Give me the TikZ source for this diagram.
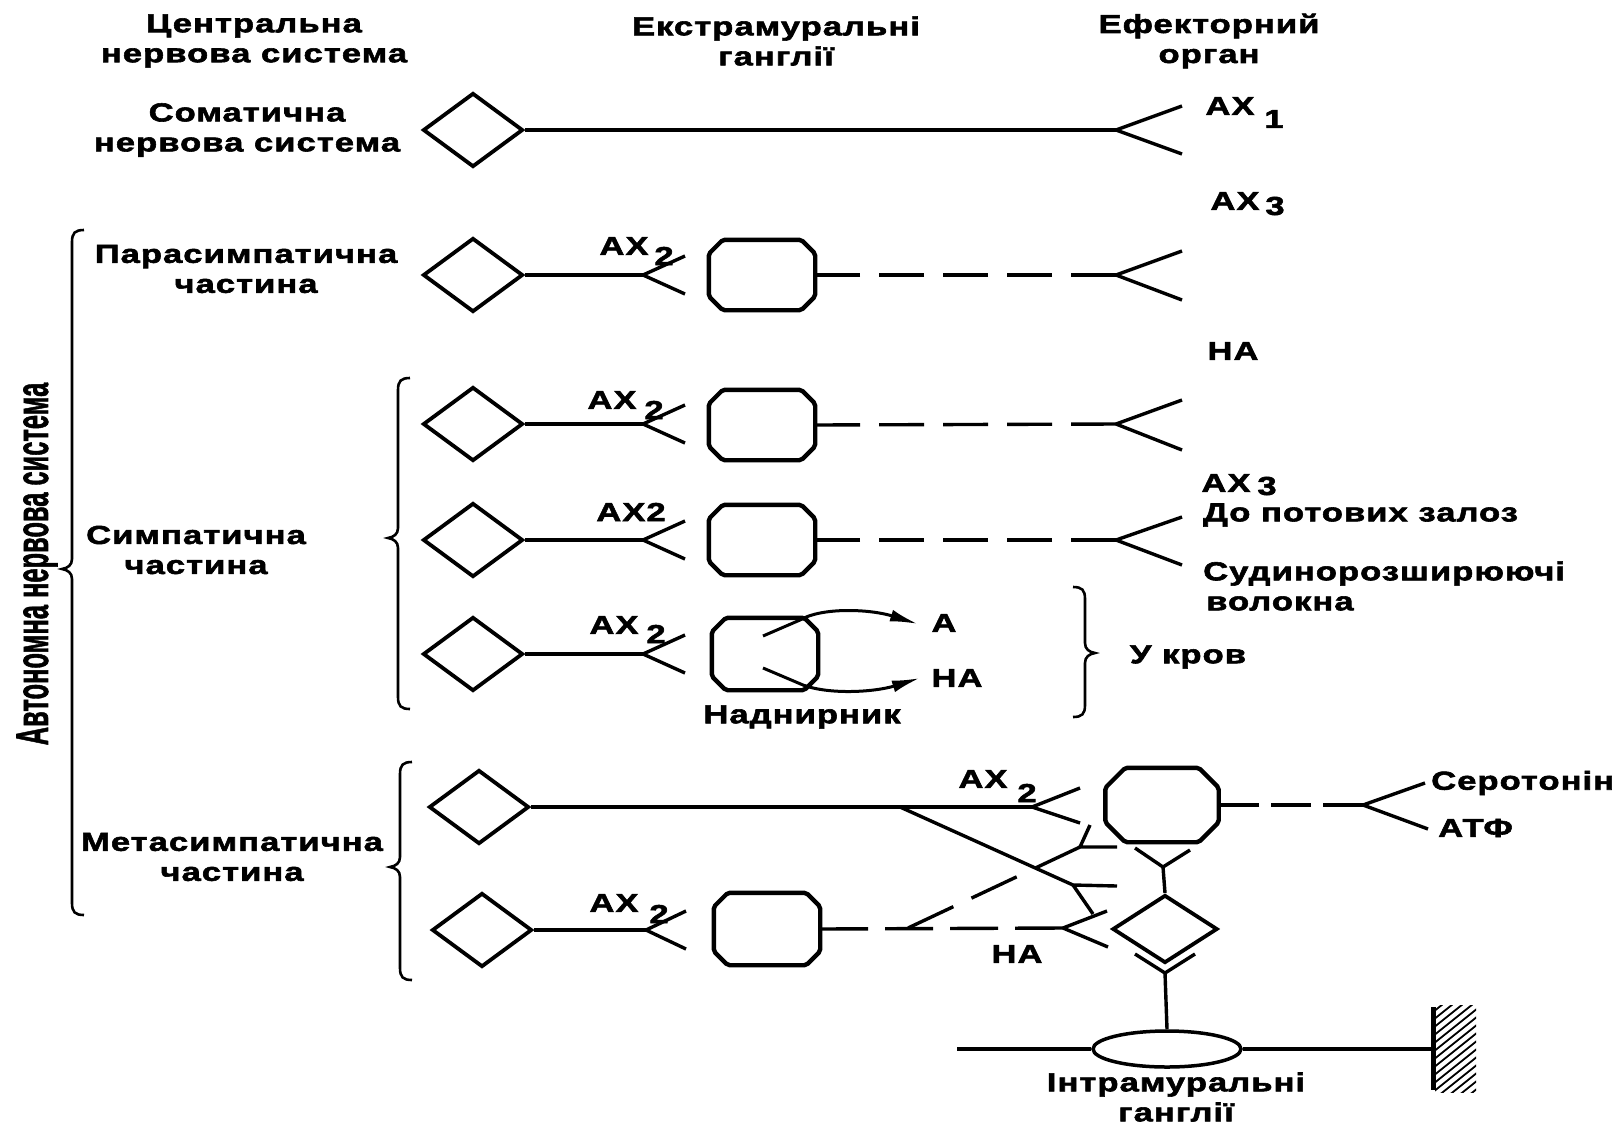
\documentclass[tikz,border=0pt]{standalone}
\usepackage{fontspec}
\setmainfont{Liberation Sans}
\newfontfamily\lblf[FakeStretch=1.33,LetterSpace=4,FakeBold=2.2]{Liberation Sans Bold}
\newfontfamily\rotf[FakeBold=1.6]{Liberation Sans Bold}
\usetikzlibrary{shapes.geometric,arrows.meta}
\newcommand\octbox[6]{%
  \node[gbox,minimum width=#4pt,minimum height=#5pt] (#1) at (#2,#3) {};
  \draw[gline] ([xshift=#6pt]#1.north west) -- ([xshift=-#6pt]#1.north east) -- ([yshift=-#6pt]#1.north east) -- ([yshift=#6pt]#1.south east) -- ([xshift=-#6pt]#1.south east) -- ([xshift=#6pt]#1.south west) -- ([yshift=#6pt]#1.south west) -- ([yshift=-#6pt]#1.north west) -- cycle;}
\newcommand\forkat[5]{\draw[ax] (#1) -- ++(#2,#3) (#1) -- ++(#4,#5);}
\newcommand\bracel[4]{%
  \draw[brc] (#1+12,#2) .. controls (#1+3,#2) and (#1,#2+3) .. (#1,#2+12) -- (#1,#4-10) .. controls (#1,#4-4) and (#1-4,#4-1) .. (#1-10,#4) .. controls (#1-4,#4+1) and (#1,#4+4) .. (#1,#4+10) -- (#1,#3-12) .. controls (#1,#3-3) and (#1+3,#3) .. (#1+12,#3);}
\newcommand\bracer[4]{%
  \draw[brc] (#1-12,#2) .. controls (#1-3,#2) and (#1,#2+3) .. (#1,#2+12) -- (#1,#4-10) .. controls (#1,#4-4) and (#1+4,#4-1) .. (#1+10,#4) .. controls (#1+4,#4+1) and (#1,#4+4) .. (#1,#4+10) -- (#1,#3-12) .. controls (#1,#3-3) and (#1-3,#3) .. (#1-12,#3);}
\begin{document}
\begin{tikzpicture}[x=1pt,y=-1pt,
  txt/.style={font=\lblf\fontsize{26}{30}\selectfont, inner sep=0pt, align=center},
  neu/.style={draw, line width=3.8pt, diamond, minimum width=100pt, minimum height=74pt, inner sep=0pt},
  gbox/.style={rectangle, inner sep=0pt},
  gline/.style={line width=4.4pt, rounded corners=2pt},
  ax/.style={line width=3.4pt},
  dsh/.style={line width=3.4pt, dash pattern=on 45pt off 19pt},
  brc/.style={line width=2.6pt},
  arr/.style={line width=3pt, -{Latex[length=28pt,width=12pt]}}]
\fill[white] (0,0) rectangle (1622,1125);
\useasboundingbox (0,0) rectangle (1622,1125);

% headers
\node[txt] (h1) at (254,41) {Центральна\\нервова система};
\node[txt] (h2) at (776,41) {Екстрамуральні\\ганглії};
\node[txt] (h3) at (1209,41) {Ефекторний\\орган};

% row labels
\node[txt] (l1) at (247,130) {Соматична\\нервова система};
\node[txt] (l2) at (246,269) {Парасимпатична\\частина};
\node[txt] (l3) at (196,550) {Симпатична\\частина};
\node[txt] (l4) at (232,857) {Метасимпатична\\частина};
\node[rotate=90, font=\rotf\fontsize{24}{28}\selectfont, inner sep=0pt] (l0) at (37,564) {\scalebox{1.06}[1.9]{Автономна нервова система}};

% braces
\bracel{72}{230}{915}{569}
\bracel{398}{378}{709}{538}
\bracel{400}{762}{980}{867}
\bracer{1085}{587}{717}{653}

% neurons (diamonds)
\node[neu] (d1) at (473,130) {};
\node[neu] (d2) at (473,275) {};
\node[neu] (d3) at (473,424) {};
\node[neu] (d4) at (473,540) {};
\node[neu] (d5) at (473,654) {};
\node[neu] (d6) at (479,807) {};
\node[neu] (d7) at (482,930) {};

% ganglia (octagons)
\octbox{g2}{762}{275}{106}{70}{14}
\octbox{g3}{762}{425}{106}{70}{14}
\octbox{g4}{762}{540}{106}{70}{14}
\octbox{g5}{765}{654}{106}{72}{14}
\octbox{g7}{767}{929}{106}{72}{14}
\octbox{gm}{1162}{805}{113}{74}{20}

% row 1
\coordinate (f1) at (1116,130);
\draw[ax] (d1.east) -- (f1);
\forkat{f1}{66}{-24}{66}{24}
% row 2
\coordinate (a2) at (643,275);
\draw[ax] (d2.east) -- (a2);
\forkat{a2}{42}{-19}{42}{19}
\coordinate (b2) at (1116,275);
\draw[dsh] (b2) -- (g2.east);
\forkat{b2}{66}{-24}{66}{25}
% row 3
\coordinate (a3) at (643,424);
\draw[ax] (d3.east) -- (a3);
\forkat{a3}{42}{-19}{42}{19}
\coordinate (b3) at (1116,424);
\draw[dsh] (b3) -- (g3.east);
\forkat{b3}{66}{-24}{66}{26}
% row 4
\coordinate (a4) at (643,540);
\draw[ax] (d4.east) -- (a4);
\forkat{a4}{42}{-19}{42}{19}
\coordinate (b4) at (1116,540);
\draw[dsh] (b4) -- (g4.east);
\forkat{b4}{66}{-23}{66}{25}
% row 5
\coordinate (a5) at (643,654);
\draw[ax] (d5.east) -- (a5);
\forkat{a5}{42}{-19}{42}{19}
\coordinate (tA) at (918,624);
\coordinate (tN) at (920,678);
\draw[arr] ([xshift=-2pt,yshift=18pt]g5.center) -- (800,620) .. controls (822,607) and (870,609) .. (tA);
\draw[arr] ([xshift=-2pt,yshift=-14pt]g5.center) -- (803,685) .. controls (830,695) and (875,692) .. (tN);

% metasympathetic
\coordinate (a6) at (1032,807);
\draw[ax] (d6.east) -- (a6);
\forkat{a6}{48}{-19}{48}{16}
\coordinate (s6) at (900,807);
\coordinate (y1) at (1073,885);
\draw[ax] (s6) -- (y1);
\forkat{y1}{44}{1}{20}{29}
\coordinate (a7) at (646,930);
\draw[ax] (d7.east) -- (a7);
\forkat{a7}{40}{-19}{40}{19}
\coordinate (b7) at (1063,928);
\draw[ax, dash pattern=on 48pt off 17pt] (b7) -- (g7.east);
\forkat{b7}{44}{-17}{45}{19}
\coordinate (s7) at (908,928);
\coordinate (y2) at (1080,847);
\draw[ax, dash pattern=on 50pt off 20pt] (y2) -- (s7);
\forkat{y2}{37}{0}{10}{-22}
\coordinate (c6) at (1363,805);
\draw[ax, dash pattern=on 40pt off 12pt] (c6) -- (gm.east);
\forkat{c6}{62}{-22}{65}{24}
\node[neu, minimum width=105pt, minimum height=68pt] (im) at (1165,929) {};
\coordinate (yv) at (1163,867);
\forkat{yv}{-28}{-19}{27}{-17}
\draw[ax] (yv) -- (im.north);
\coordinate (vv) at (1165,973);
\forkat{vv}{-30}{-19}{30}{-19}
\node[draw, ellipse, line width=3.5pt, minimum width=148pt, minimum height=36pt, inner sep=0pt] (el) at (1167,1049) {};
\draw[ax] (vv) -- (el.north);
\coordinate (gl) at (957,1049);
\coordinate (wl) at (1433,1049);
\draw[ax] (gl) -- (el.west);
\draw[ax] (el.east) -- (wl);
% wall
\draw[line width=5pt] (1433,1007) -- (1433,1090);
\begin{scope}
  \clip (1435,1005) rectangle (1476,1092);
  \foreach \i in {0,...,17} \draw[line width=1.8pt] (1433,1012+\i*8) -- ++(45,-36);
\end{scope}

% labels
\node[txt] (lA) at (944,623) {А};
\node[txt] (lNA) at (957,678) {НА};
\node[txt] (nad) at (802,717) {Наднирник};
\node[txt] (kr) at (1188,657) {У кров};
\node[txt,anchor=west] (pz) at (1203,515) {До потових залоз};
\node[txt,anchor=west,align=left] (sv) at (1203,586) {Судинорозширюючі\\\hspace*{3pt}волокна};
\node[txt,anchor=west] (ser) at (1431,783) {Серотонін};
\node[txt,anchor=west] (atf) at (1438,828) {АТФ};
\node[txt] (intr) at (1176,1097) {Інтрамуральні\\ганглії};
\node[txt] (x1) at (1230,106) {АХ};
\node[txt] (x1i) at (1274,119) {1};
\node[txt] (x3a) at (1235,201) {АХ};
\node[txt] (x3ai) at (1275,206) {3};
\node[txt] (na1) at (1233,351) {НА};
\node[txt] (x3b) at (1226,483) {АХ};
\node[txt] (x3bi) at (1267,486) {3};
\node[txt] (x2) at (624,246) {АХ};
\node[txt] (x2i) at (664,256) {2};
\node[txt] (x3) at (612,400) {АХ};
\node[txt] (x3i) at (654,410) {2};
\node[txt] (x4) at (631,512) {АХ2};
\node[txt] (x5) at (614,625) {АХ};
\node[txt] (x5i) at (656,634) {2};
\node[txt] (x6) at (983,779) {АХ};
\node[txt] (x6i) at (1027,793) {2};
\node[txt] (x7) at (614,903) {АХ};
\node[txt] (x7i) at (659,914) {2};
\node[txt] (na2) at (1017,954) {НА};
\end{tikzpicture}
\end{document}
